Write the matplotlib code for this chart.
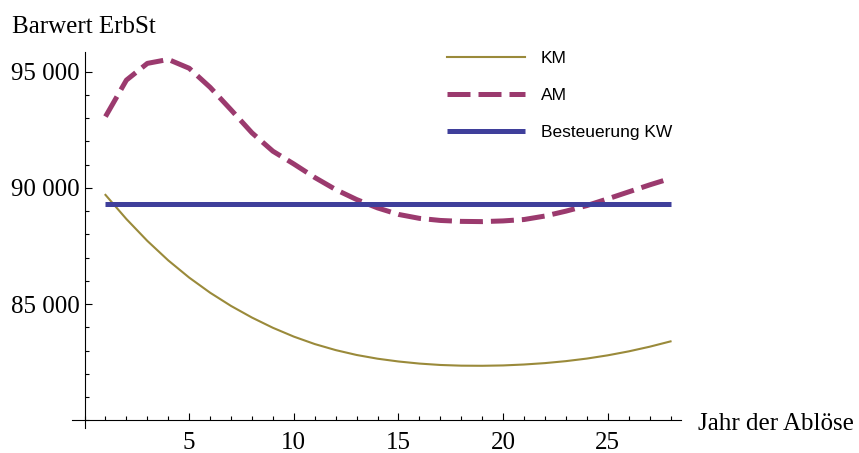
import numpy as np
import matplotlib
matplotlib.use("Agg")
import matplotlib.pyplot as plt
from matplotlib.ticker import MultipleLocator, FixedLocator

# Jahr der Abloese
years = np.arange(1, 29)

# Barwert ErbSt
km = [89700, 88660, 87720, 86880, 86140, 85490, 84920, 84420, 83980, 83600,
      83280, 83020, 82810, 82650, 82530, 82440, 82380, 82350, 82345, 82360,
      82400, 82460, 82545, 82655, 82795, 82965, 83165, 83395]
am = [93070, 94640, 95360, 95530, 95150, 94330, 93360, 92370, 91580, 91030,
      90450, 89930, 89500, 89140, 88860, 88690, 88600, 88560, 88550, 88580,
      88640, 88790, 89000, 89240, 89530, 89830, 90130, 90410]
kw = 89300  # Besteuerung KW (constant)

series_labels = ["KM", "AM", "Besteuerung KW"]
x_ticks = [5, 10, 15, 20, 25]
y_ticks = [85000, 90000, 95000]
y_tick_labels = ["85 000", "90 000", "95 000"]

serif = "Liberation Serif"
sans = "Liberation Sans"

fig = plt.figure(figsize=(8.59, 4.53), dpi=100)
ax = fig.add_axes([72 / 859, 1 - 428.4 / 453, (681 - 72) / 859, (428.4 - 52) / 453])

ax.plot(years, km, color="#9a8a3a", lw=1.5, label=series_labels[0])
ax.plot(years, am, color="#9b3a6e", lw=3.6, dashes=(4.6, 1.6),
        dash_capstyle="butt", label=series_labels[1])
ax.plot([years[0], years[-1]], [kw, kw], color="#3f3f9b", lw=3.6,
        solid_capstyle="butt", label=series_labels[2])

ax.set_xlim(-0.6, 28.5)
ax.set_ylim(79650, 95850)

# Mathematica style crossing axes
ax.spines["left"].set_position(("data", 0))
ax.spines["bottom"].set_position(("data", 80000))
ax.spines["right"].set_visible(False)
ax.spines["top"].set_visible(False)
for s in ("left", "bottom"):
    ax.spines[s].set_linewidth(0.8)

ax.xaxis.set_major_locator(FixedLocator(x_ticks))
ax.xaxis.set_minor_locator(MultipleLocator(1))
ax.yaxis.set_major_locator(FixedLocator(y_ticks))
ax.yaxis.set_minor_locator(MultipleLocator(1000))
ax.set_yticklabels(y_tick_labels)
ax.set_xticklabels([str(t) for t in x_ticks])

ax.tick_params(which="both", direction="in", width=0.8)
ax.tick_params(which="major", length=5.2)
ax.tick_params(which="minor", length=3)
ax.tick_params(axis="y", which="major", pad=3.2)
ax.tick_params(axis="x", which="major", pad=8.5)
for lab in ax.get_xticklabels() + ax.get_yticklabels():
    lab.set_fontfamily(serif)
    lab.set_fontsize(18)

fig.text(12 / 859, 1 - 33 / 453, "Barwert ErbSt", family=serif, fontsize=18,
         va="baseline", ha="left")
fig.text(698 / 859, 1 - 430 / 453, "Jahr der Ablöse", family=serif, fontsize=18,
         va="baseline", ha="left")

ax.legend(loc="upper left", bbox_to_anchor=(447 / 859, 1 - 51 / 453),
          bbox_transform=fig.transFigure, frameon=False, borderpad=0,
          borderaxespad=0, handlelength=4.5, handletextpad=0.9,
          labelspacing=1.25, prop={"family": sans, "size": 12.5})

fig.savefig("out.png", dpi=100)
